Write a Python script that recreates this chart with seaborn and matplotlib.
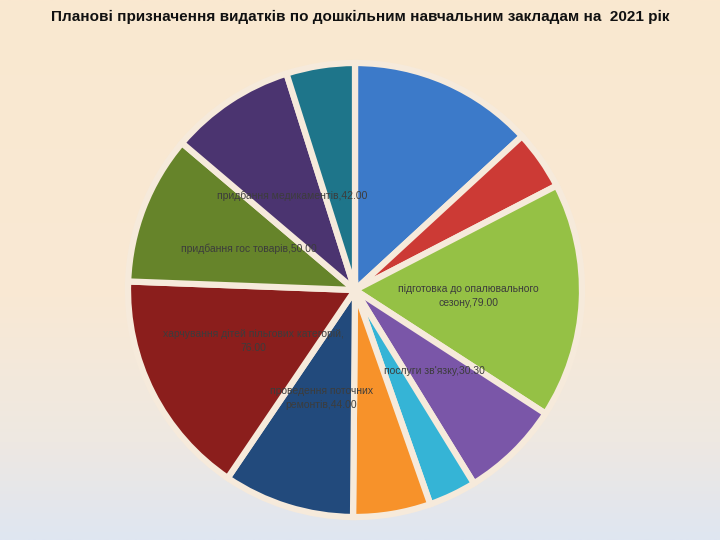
import numpy as np
import matplotlib
matplotlib.use("Agg")
import matplotlib.pyplot as plt
from matplotlib.colors import LinearSegmentedColormap
import seaborn as sns

# ---- data ----
categories = [
    "оплата праці",
    "нарахування на оплату праці",
    "підготовка до опалювального\nсезону",
    "послуги зв'язку",
    "оплата електроенергії",
    "оплата водопостачання",
    "проведення поточних\nремонтів",
    "харчування дітей пільгових категорій",
    "придбання гос товарів",
    "придбання медикаментів",
    "інші видатки",
]
values = [62.0, 20.0, 79.0, 33.30, 16.0, 26.0, 44.0, 76.0, 50.0, 42.0, 23.0]
show_label = [False, False, True, True, False, False, True, True, True, True, False]
label_texts = [
    "",
    "",
    "підготовка до опалювального\nсезону,79.00",
    "послуги зв'язку,30.30",
    "",
    "",
    "проведення поточних\nремонтів,44.00",
    "харчування дітей пільгових категорій,\n76.00",
    "придбання гос товарів,50.00",
    "придбання медикаментів,42.00",
    "",
]
colors = ["#3C7AC9", "#CC3A35", "#95C145", "#7A56A8", "#35B4D6", "#F7922A",
          "#224A7C", "#8B1E1C", "#66842A", "#4B3470", "#1E758A"]

sns.set_theme(style="white")
plt.rcParams["font.family"] = ["Liberation Sans", "DejaVu Sans"]
palette = sns.color_palette(colors)

fig = plt.figure(figsize=(7.2, 5.4), dpi=100)

# gradient background
bg = fig.add_axes([0, 0, 1, 1], zorder=0)
cmap = LinearSegmentedColormap.from_list(
    "bg", [(0.0, "#FAE8D0"), (0.55, "#F9E9D4"), (0.82, "#EEE8E2"), (1.0, "#DFE6F1")])
grad = np.linspace(0, 1, 256).reshape(-1, 1)
bg.imshow(grad, aspect="auto", cmap=cmap, extent=[0, 1, 0, 1], origin="upper")
bg.set_axis_off()

cx, cy, r = 355, 290, 227
ax = fig.add_axes([(cx - r) / 720, (540 - cy - r) / 540, 2 * r / 720, 2 * r / 540], zorder=1)
ax.patch.set_alpha(0)
wedges, _ = ax.pie(values, colors=palette, startangle=90, counterclock=False,
                   wedgeprops=dict(edgecolor="#F6EADB", linewidth=4.5))
ax.set_xlim(-1.0, 1.0)
ax.set_ylim(-1.0, 1.0)
ax.set_aspect("equal")
ax.set_axis_off()

for w, txt, show in zip(wedges, label_texts, show_label):
    if not show:
        continue
    mid = np.deg2rad((w.theta1 + w.theta2) / 2)
    x, y = 0.5 * np.cos(mid), 0.5 * np.sin(mid)
    ax.text(x, y, txt, ha="center", va="center", fontsize=7.5,
            color="#3C3C3C", linespacing=1.5)

fig.text(0.5, 1 - 17 / 540, "Планові призначення видатків по дошкільним навчальним закладам на  2021 рік",
         ha="center", va="center", fontsize=11, fontweight="bold",
         family=["Liberation Sans Narrow", "Liberation Sans", "DejaVu Sans"], color="#111111")

fig.savefig("out.png", dpi=100)
